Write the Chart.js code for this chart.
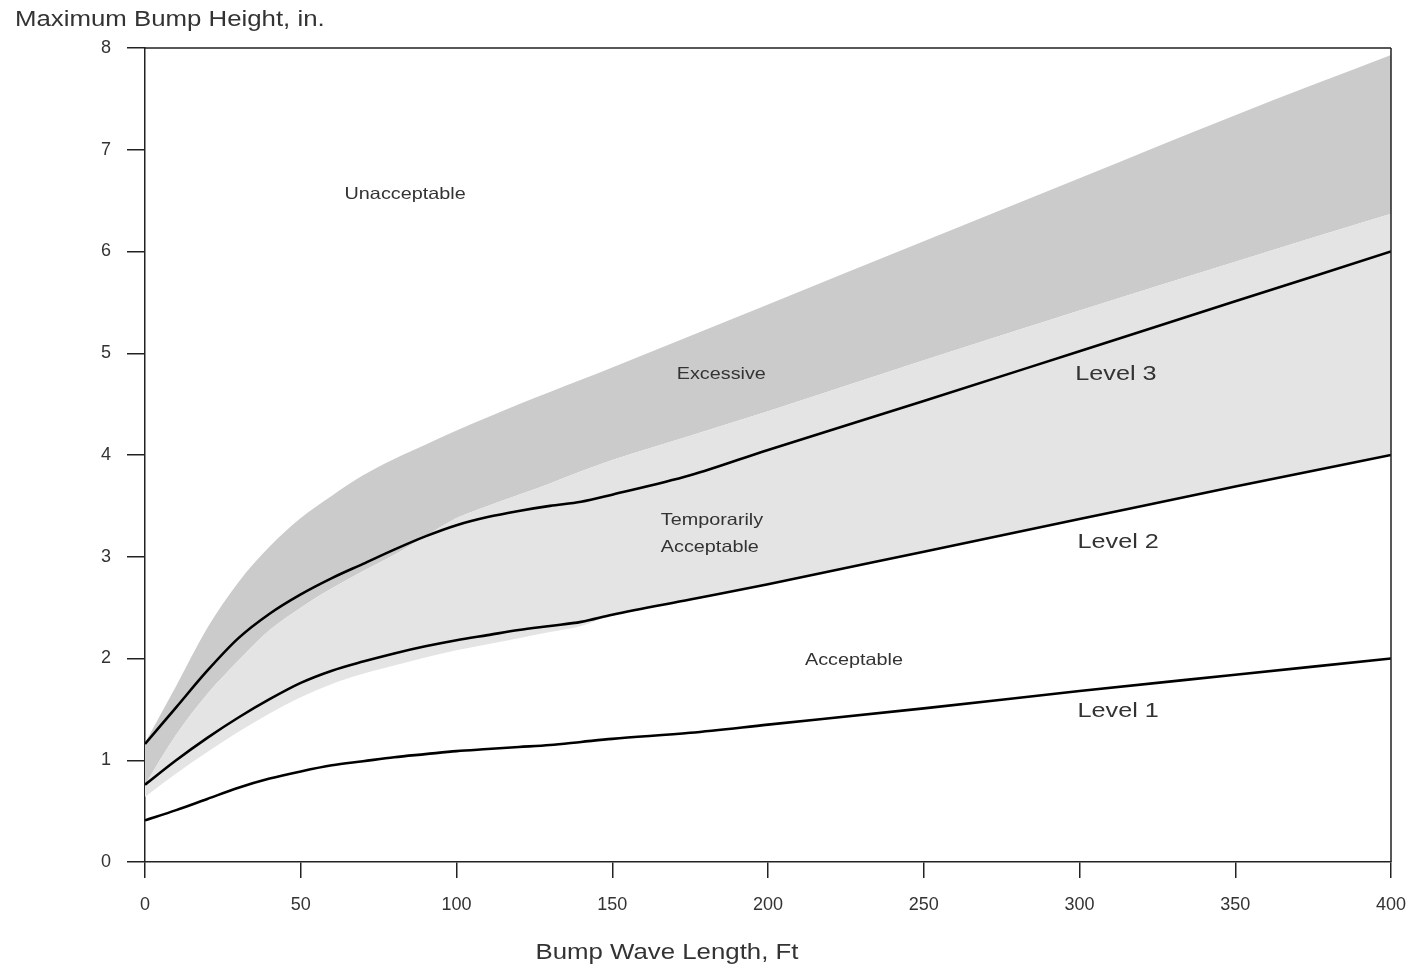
<!DOCTYPE html>
<html><head><meta charset="utf-8">
<script src="https://cdn.jsdelivr.net/npm/chart.js@4.4.1/dist/chart.umd.min.js"></script>
<style>html,body{margin:0;padding:0;background:#fff;}canvas{display:block;}</style>
</head><body>
<canvas id="c" width="1406" height="970"></canvas>
<script>
// ---- data (bump wave length in ft, bump height in inches) ----
const waveLength = [0,10,20,30,40,50,60,70,80,90,100,110,120,130,140,150,175,200,250,300,350,400];
const level1 = [0.41,0.51,0.62,0.73,0.82,0.89,0.95,0.99,1.03,1.06,1.09,1.11,1.13,1.15,1.18,1.21,1.27,1.35,1.51,1.68,1.84,2.0];
const level2 = [0.76,1.0,1.22,1.42,1.6,1.76,1.88,1.97,2.05,2.12,2.18,2.23,2.28,2.32,2.36,2.43,2.58,2.73,3.05,3.37,3.69,4.0];
const level3 = [1.16,1.52,1.88,2.2,2.44,2.63,2.79,2.93,3.07,3.2,3.31,3.39,3.45,3.5,3.54,3.61,3.8,4.05,4.53,5.02,5.51,6.0];
const tempLower = [0.64,0.87,1.08,1.28,1.46,1.62,1.75,1.85,1.93,2.01,2.08,2.14,2.2,2.26,2.32,2.43,2.58,2.73,3.05,3.37,3.69,4.0];
const excessLower = [0.76,1.25,1.65,1.98,2.28,2.5,2.69,2.86,3.02,3.2,3.38,3.5,3.61,3.72,3.84,3.95,4.19,4.43,4.93,5.42,5.9,6.37];
const excessUpper = [1.17,1.73,2.3,2.75,3.1,3.38,3.6,3.8,3.96,4.1,4.24,4.37,4.5,4.62,4.74,4.86,5.17,5.48,6.1,6.72,7.34,7.93];
const xTicks = [0,50,100,150,200,250,300,350,400];
const yTicks = [0,1,2,3,4,5,6,7,8];

// region / level labels, anchored in data coordinates
const regionLabels = [
  {text:'Unacceptable', x:83.5, y:6.56, size:16.5, align:'center'},
  {text:'Excessive', x:185, y:4.79, size:16.5, align:'center'},
  {text:'Temporarily', x:165.6, y:3.36, size:16.5, align:'left'},
  {text:'Acceptable', x:165.6, y:3.09, size:16.5, align:'left'},
  {text:'Acceptable', x:227.6, y:1.98, size:16.5, align:'center'},
  {text:'Level 3', x:311.7, y:4.79, size:21, align:'center'},
  {text:'Level 2', x:312.4, y:3.14, size:21, align:'center'},
  {text:'Level 1', x:312.4, y:1.48, size:21, align:'center'}
];

const FONT = '"Liberation Sans", Arial, sans-serif';
const pts = arr => waveLength.map((x,i)=>({x:x, y:arr[i]}));

function stretchedText(ctx, s, x, y, size, align, sx){
  ctx.save();
  ctx.font = size + 'px ' + FONT;
  ctx.fillStyle = '#333';
  ctx.textBaseline = 'middle';
  ctx.textAlign = align;
  ctx.translate(x, y);
  ctx.scale(sx, 1);
  ctx.fillText(s, 0, 0);
  ctx.restore();
}

const overlay = {
  id: 'overlay',
  afterDraw(chart){
    const ctx = chart.ctx, a = chart.chartArea;
    const xs = chart.scales.x, ys = chart.scales.y;
    ctx.save();
    ctx.strokeStyle = '#222';
    ctx.lineWidth = 1.5;
    ctx.beginPath();
    ctx.moveTo(a.left, a.top); ctx.lineTo(a.right, a.top);
    ctx.moveTo(a.right, a.top); ctx.lineTo(a.right, a.bottom);
    ctx.stroke();
    ctx.restore();
    regionLabels.forEach(l => {
      stretchedText(ctx, l.text, xs.getPixelForValue(l.x), ys.getPixelForValue(l.y), l.size, l.align, 1.2);
    });
    stretchedText(ctx, 'Maximum Bump Height, in.', 15, 20, 21.5, 'left', 1.2);
    stretchedText(ctx, 'Bump Wave Length, Ft', 667, 953, 21.5, 'center', 1.2);
  }
};

const lineStyle = {borderColor:'#000', borderWidth:2.6, pointRadius:0, fill:false, cubicInterpolationMode:'monotone'};
const bandStyle = {borderWidth:0, pointRadius:0, cubicInterpolationMode:'monotone', borderColor:'rgba(0,0,0,0)'};

new Chart(document.getElementById('c'), {
  type: 'line',
  data: {
    datasets: [
      Object.assign({label:'Level 3', data:pts(level3)}, lineStyle),
      Object.assign({label:'Level 2', data:pts(level2)}, lineStyle),
      Object.assign({label:'Level 1', data:pts(level1)}, lineStyle),
      Object.assign({label:'Temporarily acceptable lower', data:pts(tempLower), fill:false}, bandStyle),
      Object.assign({label:'Temporarily acceptable', data:pts(excessLower), fill:'-1', backgroundColor:'#e4e4e4'}, bandStyle),
      Object.assign({label:'Excessive', data:pts(excessUpper), fill:'-1', backgroundColor:'#cbcbcb'}, bandStyle)
    ]
  },
  options: {
    responsive: false,
    devicePixelRatio: 1,
    animation: false,
    layout: {padding: {left:0, top:48, right:15, bottom:0}},
    plugins: {legend:{display:false}, tooltip:{enabled:false}, title:{display:false}},
    scales: {
      x: {
        type: 'linear', min: 0, max: 400,
        afterBuildTicks: s => { s.ticks = xTicks.map(v=>({value:v})); },
        afterFit: s => { s.height = 108; s.paddingLeft = 0; s.paddingRight = 0; },
        border: {display:true, color:'#222', width:1.5},
        grid: {drawOnChartArea:false, drawTicks:true, tickLength:16, color:'#222', lineWidth:1.5},
        ticks: {color:'#333', font:{family:FONT, size:18}, padding:16, maxRotation:0}
      },
      y: {
        type: 'linear', min: 0, max: 8,
        afterBuildTicks: s => { s.ticks = yTicks.map(v=>({value:v})); },
        afterFit: s => { s.width = 145; },
        border: {display:true, color:'#222', width:1.5},
        grid: {drawOnChartArea:false, drawTicks:true, tickLength:18, color:'#222', lineWidth:1.5},
        ticks: {color:'#333', font:{family:FONT, size:18}, padding:16}
      }
    }
  },
  plugins: [overlay]
});
</script>
</body></html>
